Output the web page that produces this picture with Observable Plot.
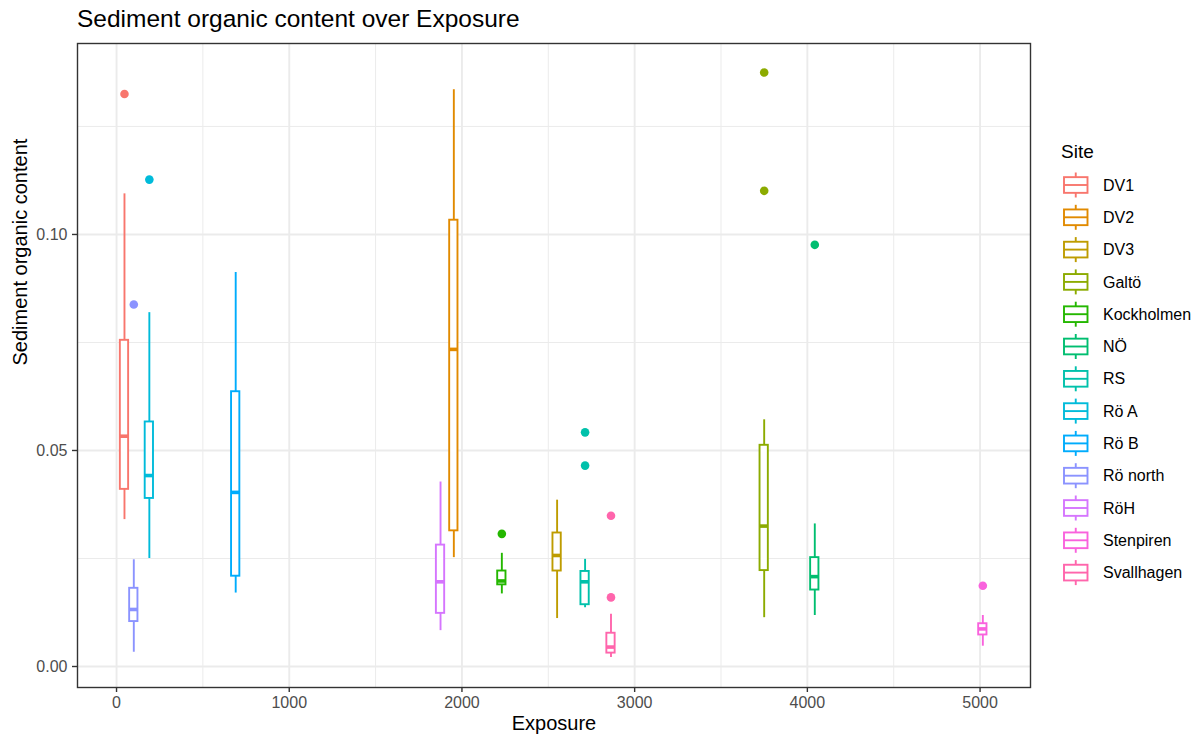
<!DOCTYPE html>
<html>
<head>
<meta charset="utf-8">
<script src="https://cdn.jsdelivr.net/npm/d3@7"></script>
<script src="https://cdn.jsdelivr.net/npm/@observablehq/plot@0.6"></script>
<style>
  html, body { margin: 0; padding: 0; background: #fff; }
  #wrap { position: relative; width: 1201px; height: 738px; font-family: "Liberation Sans", Arial, sans-serif; }
  #title { position: absolute; left: 77px; top: 7px; font-size: 24.5px; line-height: 24.5px; color: #000; white-space: nowrap; }
  #chart { position: absolute; left: 0; top: 34px; }
  #legend { position: absolute; left: 1050px; top: 130px; }
</style>
</head>
<body>
<div id="wrap">
  <div id="title">Sediment organic content over Exposure</div>
  <div id="chart"></div>
  <div id="legend"></div>
</div>
<script>
// ---- data ----
const sites = ["DV1", "DV2", "DV3", "Galtö", "Kockholmen", "NÖ", "RS", "Rö A", "Rö B", "Rö north", "RöH", "Stenpiren", "Svallhagen"];
const exposure    = [46, 1953, 2551, 3750, 2231, 4043, 2713, 190, 690, 100, 1876, 5016, 2863];
const whiskerLow  = [0.0340, 0.0252, 0.0111, 0.0113, 0.0168, 0.0118, 0.0136, 0.0250, 0.0170, 0.0033, 0.0083, 0.0047, 0.0021];
const q1          = [0.0410, 0.0314, 0.0221, 0.0222, 0.0189, 0.0177, 0.0143, 0.0389, 0.0209, 0.0104, 0.0123, 0.0073, 0.0031];
const median      = [0.0533, 0.0734, 0.0257, 0.0325, 0.0198, 0.0208, 0.0196, 0.0442, 0.0403, 0.0132, 0.0196, 0.0087, 0.0045];
const q3          = [0.0755, 0.1033, 0.0309, 0.0512, 0.0221, 0.0252, 0.0220, 0.0566, 0.0636, 0.0181, 0.0281, 0.0099, 0.0077];
const whiskerHigh = [0.1094, 0.1335, 0.0385, 0.0571, 0.0262, 0.0330, 0.0248, 0.0819, 0.0912, 0.0247, 0.0427, 0.0118, 0.0121];
const outlierSite  = ["DV1", "Galtö", "Galtö", "Kockholmen", "NÖ", "RS", "RS", "Rö A", "Rö north", "Stenpiren", "Svallhagen", "Svallhagen"];
const outlierValue = [0.1325, 0.1375, 0.1101, 0.0307, 0.0976, 0.0542, 0.0465, 0.1127, 0.0838, 0.0187, 0.0349, 0.0160];
const xTicks = [0, 1000, 2000, 3000, 4000, 5000];
const yTicks = [0, 0.05, 0.10];
const xMinorGrid = [500, 1500, 2500, 3500, 4500];
const yMinorGrid = [0.025, 0.075, 0.125];

// ---- styling ----
const palette = ["#F8766D", "#E18A00", "#BE9C00", "#8CAB00", "#24B700", "#00BE70", "#00C1AB", "#00BBDA", "#00ACFC", "#8B93FF", "#D575FE", "#F962DD", "#FF65AC"];
const boxWidth = 48;
const lineW = 1.9;

const boxes = sites.map((s, i) => ({
  site: s, x: exposure[i], lo: whiskerLow[i], q1: q1[i], med: median[i], q3: q3[i], hi: whiskerHigh[i]
}));
const outliers = outlierSite.map((s, i) => ({
  site: s, x: exposure[sites.indexOf(s)], y: outlierValue[i]
}));

const font = "Liberation Sans, Arial, sans-serif";

const chart = Plot.plot({
  width: 1040,
  height: 704,
  marginLeft: 77,
  marginRight: 10,
  marginTop: 9,
  marginBottom: 51,
  style: { fontFamily: font, background: "#fff", overflow: "visible" },
  x: { domain: [-226, 5292], ticks: xTicks },
  y: { domain: [-0.00486, 0.1442], ticks: yTicks },
  color: { domain: sites, range: palette },
  marks: [
    Plot.ruleX(xMinorGrid, { stroke: "#EBEBEB", strokeWidth: 1 }),
    Plot.ruleY(yMinorGrid, { stroke: "#EBEBEB", strokeWidth: 1 }),
    Plot.ruleX(xTicks, { stroke: "#EBEBEB", strokeWidth: 1.9 }),
    Plot.ruleY(yTicks, { stroke: "#EBEBEB", strokeWidth: 1.9 }),
    // whiskers
    Plot.ruleX(boxes, { x: "x", y1: "lo", y2: "q1", stroke: "site", strokeWidth: lineW }),
    Plot.ruleX(boxes, { x: "x", y1: "q3", y2: "hi", stroke: "site", strokeWidth: lineW }),
    // boxes
    Plot.rect(boxes, {
      x1: d => d.x - boxWidth / 2, x2: d => d.x + boxWidth / 2,
      y1: "q1", y2: "q3", stroke: "site", fill: "white", strokeWidth: lineW
    }),
    // medians
    Plot.ruleY(boxes, {
      y: "med", x1: d => d.x - boxWidth / 2, x2: d => d.x + boxWidth / 2,
      stroke: "site", strokeWidth: 3.6
    }),
    // outliers
    Plot.dot(outliers, { x: "x", y: "y", fill: "site", r: 4.3 }),
    Plot.frame({ stroke: "#333333", strokeWidth: 1.4 }),
    Plot.axisX({ ticks: xTicks, tickSize: 5, tickPadding: 4, fontSize: 16, stroke: "#333333", strokeWidth: 1.4, fill: "#4D4D4D", tickFormat: d3.format("d"), label: null }),
    Plot.axisY({ ticks: yTicks, tickSize: 5, tickPadding: 5, fontSize: 16, stroke: "#333333", strokeWidth: 1.4, fill: "#4D4D4D", tickFormat: d3.format(".2f"), label: null }),
    Plot.text(["Exposure"], { frameAnchor: "bottom", lineAnchor: "middle", dy: 36, fontSize: 20, fill: "#000", fontFamily: font }),
    Plot.text(["Sediment organic content"], { frameAnchor: "left", lineAnchor: "middle", dx: -57, rotate: -90, fontSize: 20, fill: "#000", fontFamily: font })
  ]
});
document.getElementById("chart").appendChild(chart);

// ---- legend ----
const rowH = 32.3;
const lw = 151, lh = 470;
const svg = d3.select("#legend").append("svg").attr("width", lw).attr("height", lh)
  .style("font-family", font);
svg.append("text").attr("x", 11).attr("y", 28).attr("font-size", 19).attr("fill", "#000").text("Site");
sites.forEach((s, i) => {
  const cy = 55 + i * rowH;
  const g = svg.append("g").attr("stroke", palette[i]).attr("stroke-width", lineW).attr("fill", "none");
  const x0 = 14, w = 23.5, bh = 15.7, wh = 12.5;
  g.append("line").attr("x1", x0 + w / 2).attr("x2", x0 + w / 2).attr("y1", cy - wh).attr("y2", cy - bh / 2);
  g.append("line").attr("x1", x0 + w / 2).attr("x2", x0 + w / 2).attr("y1", cy + bh / 2).attr("y2", cy + wh);
  g.append("rect").attr("x", x0).attr("y", cy - bh / 2).attr("width", w).attr("height", bh).attr("fill", "white");
  g.append("line").attr("x1", x0).attr("x2", x0 + w).attr("y1", cy).attr("y2", cy);
  svg.append("text").attr("x", 53).attr("y", cy).attr("dy", "0.35em").attr("font-size", 16).attr("fill", "#000").text(s);
});
</script>
</body>
</html>
